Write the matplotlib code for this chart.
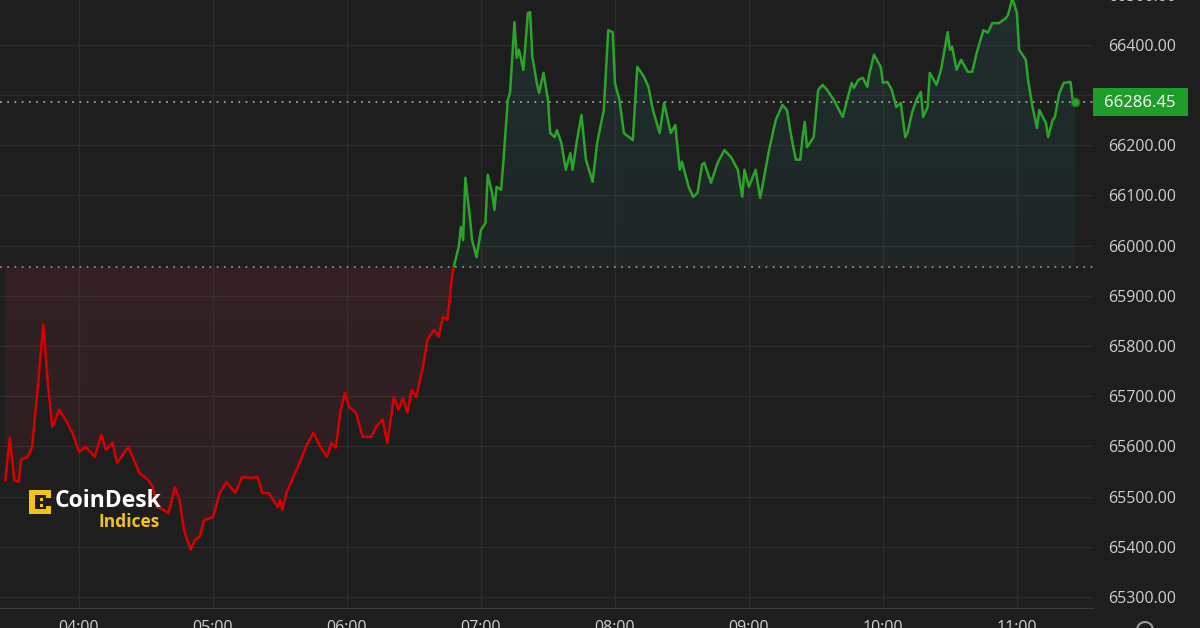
import matplotlib
matplotlib.use("Agg")
import matplotlib.pyplot as plt
import matplotlib.patches as mpatches
import matplotlib.transforms as mtransforms
from matplotlib.path import Path
import numpy as np

plt.rcParams['font.family'] = ['Open Sans', 'DejaVu Sans']

# price series (time of day, BTC price)
times = [
    "03:27", "03:29", "03:31", "03:33", "03:34", "03:37", "03:39", "03:41", "03:44", "03:46",
    "03:48", "03:49", "03:51", "03:54", "03:57", "04:00", "04:03", "04:05", "04:07", "04:10",
    "04:12", "04:15", "04:17", "04:19", "04:22", "04:24", "04:27", "04:31", "04:33", "04:35",
    "04:38", "04:40", "04:43", "04:45", "04:47", "04:50", "04:52", "04:54", "04:56", "05:00",
    "05:03", "05:06", "05:10", "05:13", "05:17", "05:20", "05:22", "05:25", "05:29", "05:30",
    "05:31", "05:33", "05:35", "05:38", "05:42", "05:45", "05:48", "05:51", "05:53", "05:55",
    "05:57", "05:59", "06:01", "06:04", "06:07", "06:11", "06:13", "06:16", "06:18", "06:21",
    "06:23", "06:25", "06:27", "06:29", "06:31", "06:34", "06:36", "06:39", "06:41", "06:43",
    "06:45", "06:47", "06:48", "06:50", "06:51", "06:52", "06:53", "06:55", "06:56", "06:58",
    "07:00", "07:02", "07:03", "07:05", "07:06", "07:07", "07:09", "07:10", "07:12", "07:13",
    "07:15", "07:16", "07:17", "07:19", "07:21", "07:22", "07:23", "07:25", "07:26", "07:28",
    "07:30", "07:31", "07:33", "07:34", "07:36", "07:38", "07:40", "07:41", "07:43", "07:45",
    "07:47", "07:50", "07:52", "07:55", "07:57", "07:59", "08:00", "08:02", "08:04", "08:08",
    "08:10", "08:13", "08:15", "08:17", "08:20", "08:22", "08:25", "08:27", "08:29", "08:30",
    "08:33", "08:35", "08:37", "08:39", "08:40", "08:43", "08:46", "08:49", "08:52", "08:55",
    "08:57", "08:58", "09:00", "09:03", "09:05", "09:06", "09:09", "09:12", "09:15", "09:17",
    "09:19", "09:21", "09:23", "09:24", "09:25", "09:26", "09:29", "09:31", "09:33", "09:35",
    "09:38", "09:42", "09:44", "09:46", "09:47", "09:49", "09:51", "09:53", "09:54", "09:56",
    "09:59", "10:00", "10:02", "10:04", "10:06", "10:08", "10:10", "10:11", "10:13", "10:15",
    "10:17", "10:18", "10:20", "10:21", "10:22", "10:24", "10:26", "10:29", "10:30", "10:31",
    "10:33", "10:35", "10:38", "10:40", "10:42", "10:45", "10:47", "10:49", "10:52", "10:55",
    "10:56", "10:58", "11:00", "11:01", "11:04", "11:05", "11:07", "11:09", "11:10", "11:13",
    "11:14", "11:16", "11:17", "11:19", "11:21", "11:24", "11:25", "11:26",
]
prices = [
    65533, 65617, 65533, 65529, 65573, 65579, 65599, 65692, 65842, 65726,
    65639, 65647, 65673, 65653, 65627, 65589, 65599, 65589, 65579, 65623,
    65593, 65607, 65567, 65579, 65599, 65579, 65547, 65533, 65519, 65479,
    65473, 65467, 65519, 65493, 65433, 65394, 65414, 65420, 65453, 65459,
    65507, 65529, 65507, 65539, 65537, 65539, 65507, 65507, 65479, 65493,
    65473, 65509, 65529, 65559, 65603, 65627, 65599, 65579, 65607, 65597,
    65667, 65706, 65678, 65667, 65619, 65619, 65639, 65653, 65607, 65698,
    65673, 65696, 65667, 65712, 65698, 65758, 65812, 65832, 65818, 65858,
    65852, 65937, 65961, 65997, 66037, 66011, 66135, 66057, 66011, 65977,
    66031, 66045, 66141, 66105, 66071, 66117, 66111, 66165, 66290, 66304,
    66445, 66374, 66390, 66350, 66463, 66465, 66376, 66324, 66304, 66344,
    66290, 66224, 66216, 66230, 66204, 66151, 66184, 66151, 66210, 66260,
    66171, 66127, 66204, 66270, 66429, 66425, 66324, 66290, 66224, 66210,
    66356, 66336, 66316, 66270, 66224, 66284, 66224, 66240, 66151, 66167,
    66117, 66097, 66105, 66161, 66165, 66125, 66165, 66190, 66176, 66151,
    66097, 66151, 66117, 66151, 66095, 66117, 66190, 66250, 66280, 66270,
    66216, 66171, 66171, 66216, 66246, 66196, 66216, 66310, 66320, 66310,
    66290, 66256, 66290, 66324, 66314, 66330, 66334, 66316, 66344, 66380,
    66356, 66324, 66326, 66310, 66276, 66284, 66216, 66224, 66264, 66290,
    66306, 66256, 66276, 66344, 66336, 66320, 66350, 66425, 66390, 66396,
    66350, 66370, 66346, 66346, 66384, 66429, 66424, 66443, 66443, 66453,
    66459, 66493, 66463, 66390, 66370, 66330, 66276, 66234, 66270, 66244,
    66216, 66250, 66256, 66304, 66324, 66326, 66290, 66286.45,
]
open_price = 65957
last_price = 66286.45
hour_ticks = [4, 5, 6, 7, 8, 9, 10, 11]
price_ticks = [65300, 65400, 65500, 65600, 65700, 65800, 65900,
               66000, 66100, 66200, 66300, 66400, 66500]

BG = '#1e1e1e'
GRID = '#2c2c2c'
RED = '#d90000'
GREEN = '#2aa52a'
TXT = '#cfcfcf'

x = np.array([int(t[:2]) + int(t[3:]) / 60 for t in times])
y = np.array(prices, dtype=float)

fig = plt.figure(figsize=(12, 6.28), dpi=100, facecolor=BG)
ax = fig.add_axes([0, 20 / 628, 1093 / 1200, 620 / 628])
ax.set_facecolor(BG)

xmin, xmax = 3.41, 11.568
ymin, ymax = 65278, 66513


def gradient_fill(mask_where, rgb, a_near, a_far, y_near, y_far):
    poly = ax.fill_between(x, y, open_price, where=mask_where, interpolate=True,
                           facecolor='none', edgecolor='none')
    path = Path.make_compound_path(*poly.get_paths())
    alpha = np.linspace(a_near, a_far, 256)
    img = np.zeros((256, 1, 4))
    img[..., :3] = rgb
    img[:, 0, 3] = alpha
    lo, hi = min(y_near, y_far), max(y_near, y_far)
    origin = 'lower' if y_near < y_far else 'upper'
    im = ax.imshow(img, extent=[x.min(), x.max(), lo, hi], origin=origin,
                   aspect='auto', zorder=1, interpolation='bilinear')
    im.set_clip_path(path, transform=ax.transData)


gradient_fill(y <= open_price, (0.62, 0.18, 0.24), 0.17, 0.09, open_price, 65390)
gradient_fill(y >= open_price, (0.18, 0.50, 0.50), 0.08, 0.17, open_price, 66500)

for col, (c0, c1) in [(RED, (ymin - 100, open_price)), (GREEN, (open_price, ymax + 100))]:
    ln, = ax.plot(x, y, color=col, lw=1.8, zorder=4, solid_joinstyle='round')
    ln.set_clip_path(mpatches.Rectangle((xmin - 1, c0), xmax - xmin + 2, c1 - c0,
                                        transform=ax.transData))

ax.plot(x[-1], y[-1], 'o', ms=6, color=GREEN, mec='#1a7a1a', zorder=5)

ax.axhline(open_price, color='#8c8c8c', lw=1.3, ls=(0, (1, 3)), zorder=3)
ax.axhline(last_price, color='#8fae8f', lw=1.3, ls=(0, (1, 3)), zorder=3)

ax.set_xlim(xmin, xmax)
ax.set_ylim(ymin, ymax)
ax.set_xticks(hour_ticks)
ax.set_xticklabels([f"{h:02d}:00" for h in hour_ticks])
ax.set_yticks(price_ticks)
ax.set_yticklabels([f"{p:.2f}" for p in price_ticks])
ax.yaxis.tick_right()
ax.tick_params(axis='both', length=0, colors=TXT, labelsize=11.5)
ax.tick_params(axis='y', pad=11)
ax.tick_params(axis='x', pad=9)
ax.grid(True, color=GRID, lw=1)
ax.set_axisbelow(True)
for side in ['top', 'left', 'right']:
    ax.spines[side].set_visible(False)
ax.spines['bottom'].set_color('#3a3a3a')

# last price badge on the price scale
blend = mtransforms.blended_transform_factory(ax.transAxes, ax.transData)
ax.add_patch(mpatches.Rectangle((1.0, last_price - 27.5), 95 / 1093, 55,
                                transform=blend, clip_on=False,
                                facecolor='#1f9d2b', edgecolor='none', zorder=10))
ax.text(1.0 + 47 / 1093, last_price - 3, f"{last_price:.2f}", transform=blend,
        ha='center', va='center', color='white', fontsize=12, zorder=11)

# overlay in pixel coordinates for the logo
ov = fig.add_axes([0, 0, 1, 1], facecolor='none')
ov.set_xlim(0, 1200)
ov.set_ylim(628, 0)
ov.axis('off')
YEL = '#f2c21b'
for rx, ry, rw, rh in [(29, 490, 6, 24), (29, 490, 22, 5), (29, 509, 22, 5),
                       (46, 490, 5, 8), (46, 506, 5, 8), (40, 498, 3, 3), (40, 504, 3, 3)]:
    ov.add_patch(mpatches.Rectangle((rx, ry), rw, rh, facecolor=YEL, edgecolor='none'))
ov.text(55, 501, "CoinDesk", color='white', fontsize=16.5, fontweight='bold',
        ha='left', va='center')
ov.text(160, 522, "Indices", color=YEL, fontsize=12.5, fontweight='bold',
        ha='right', va='center')
ov.add_patch(mpatches.Circle((1145, 630), 8, facecolor='none', edgecolor='#9a9a9a', lw=1.5))

fig.savefig("out.png", dpi=100, facecolor=BG)
